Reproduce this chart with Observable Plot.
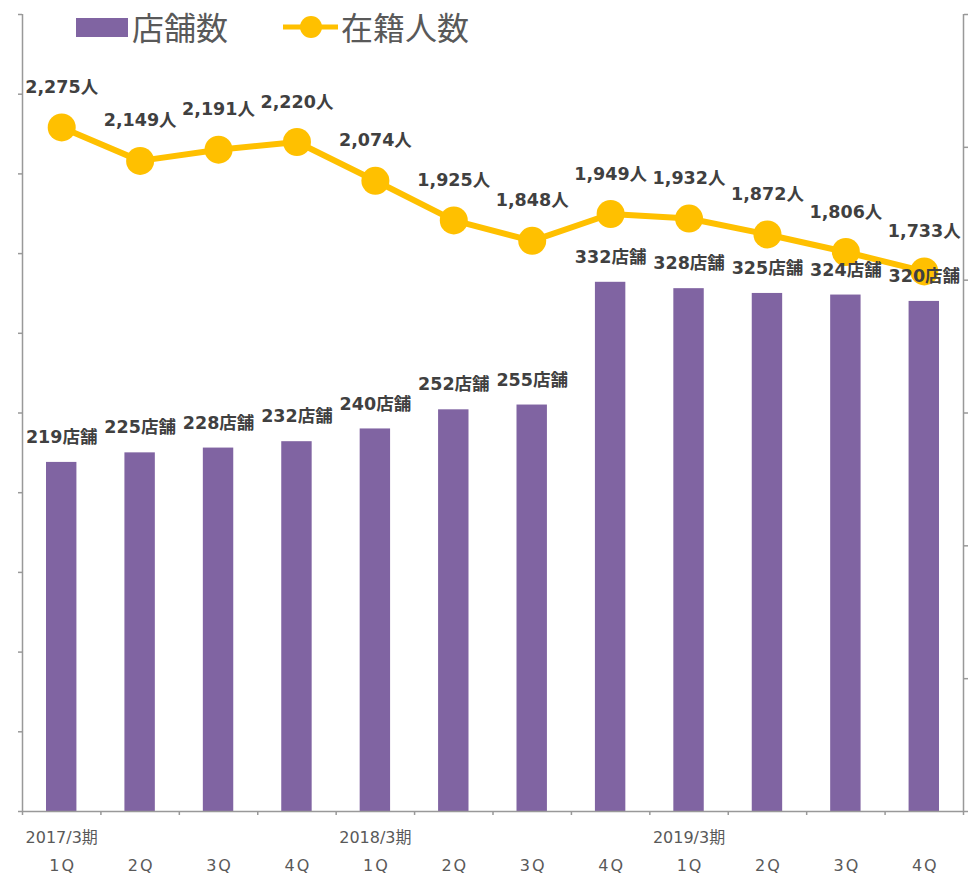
<!DOCTYPE html>
<html>
<head>
<meta charset="utf-8">
<script src="https://cdn.jsdelivr.net/npm/d3@7"></script>
<script src="https://cdn.jsdelivr.net/npm/@observablehq/plot@0.6"></script>
<style>
  html, body { margin: 0; padding: 0; background: #fff; overflow: hidden; }
  #wrap { position: relative; width: 971px; height: 874px; }
  #legend { position: absolute; left: 0; top: 0; }
  #chart svg { display: block; }
</style>
</head>
<body>
<div id="wrap">
  <div id="chart"></div>
  <svg id="legend" width="500" height="50"></svg>
</div>
<script>
// ---- data ----
const periods = ["2017/3期", "", "", "", "2018/3期", "", "", "", "2019/3期", "", "", ""];
const quarters = ["1Q", "2Q", "3Q", "4Q", "1Q", "2Q", "3Q", "4Q", "1Q", "2Q", "3Q", "4Q"];
const stores = [219, 225, 228, 232, 240, 252, 255, 332, 328, 325, 324, 320];
const staff = [2275, 2149, 2191, 2220, 2074, 1925, 1848, 1949, 1932, 1872, 1806, 1733];
const storeTicks = [0, 50, 100, 150, 200, 250, 300, 350, 400, 450, 500];
const staffTicks = [-300, 200, 700, 1200, 1700, 2200, 2700];
const storeDomain = [0, 500];
const staffDomain = [-300, 2700];
const seriesNames = ["店舗数", "在籍人数"];

const purple = "#8064a2";
const gold = "#ffc000";
const axisGray = "#999999";
const labelColor = "#404040";
const textGray = "#595959";
const labelFont = "'DejaVu Sans', 'Noto Sans CJK JP', sans-serif";

// map staff values into the store (left) scale for the secondary axis
const toLeft = v => storeDomain[0] + (v - staffDomain[0]) / (staffDomain[1] - staffDomain[0]) * (storeDomain[1] - storeDomain[0]);

const rows = stores.map((s, i) => ({i, c: i + 0.5, store: s, staff: staff[i], staffY: toLeft(staff[i])}));

const chart = Plot.plot({
  width: 971,
  height: 874,
  marginLeft: 22,
  marginRight: 8,
  marginTop: 14,
  marginBottom: 63,
  x: {domain: [0, 12], axis: null},
  y: {domain: storeDomain, axis: null},
  style: {fontFamily: labelFont, background: "#fff"},
  marks: [
    Plot.rectY(rows, {x: "i", interval: 1, y: "store", fill: purple, insetLeft: 24, insetRight: 24}),
    Plot.axisY({anchor: "left", ticks: storeTicks, tickSize: 4, tickFormat: () => "", stroke: axisGray, strokeWidth: 1.5, label: null}),
    Plot.axisY({anchor: "right", ticks: staffTicks.map(toLeft), tickSize: 4, tickFormat: () => "", stroke: axisGray, strokeWidth: 1.5, label: null}),
    Plot.axisX({anchor: "bottom", ticks: d3.range(13), tickSize: 4, tickFormat: () => "", stroke: axisGray, strokeWidth: 1.5, label: null}),
    Plot.ruleX([0, 12], {stroke: axisGray, strokeWidth: 1.5}),
    Plot.ruleY([0], {stroke: axisGray, strokeWidth: 1.5}),
    Plot.axisX({anchor: "bottom", ticks: rows.map(d => d.c), tickSize: 0, tickPadding: 20,
      tickFormat: v => periods[Math.floor(v)], fontSize: 16, fill: textGray, label: null}),
    Plot.axisX({anchor: "bottom", ticks: rows.map(d => d.c), tickSize: 0, tickPadding: 48,
      tickFormat: v => quarters[Math.floor(v)], fontSize: 16, fill: textGray, label: null}),
    Plot.line(rows, {x: "c", y: "staffY", stroke: gold, strokeWidth: 6}),
    Plot.dot(rows, {x: "c", y: "staffY", r: 14, fill: gold}),
    Plot.text(rows, {x: "c", y: "store", text: d => d.store + "店舗", dy: -25,
      fontSize: 17.5, fontWeight: "bold", fill: labelColor}),
    Plot.text(rows, {x: "c", y: "staffY", text: d => d3.format(",")(d.staff) + "人", dy: -40,
      fontSize: 17.5, fontWeight: "bold", fill: labelColor})
  ]
});
document.getElementById("chart").appendChild(chart);

// quarter labels letter spacing
d3.select(chart).selectAll("text").filter(function () { return quarters.includes(this.textContent); })
  .style("letter-spacing", "2px").attr("dx", 1);

// legend
const lg = d3.select("#legend");
lg.append("rect").attr("x", 76).attr("y", 18).attr("width", 52).attr("height", 19).attr("fill", purple);
lg.append("text").attr("x", 132).attr("y", 40).text(seriesNames[0])
  .attr("font-family", "'Noto Sans CJK JP', sans-serif").attr("font-size", 32).attr("fill", textGray);
lg.append("line").attr("x1", 283).attr("x2", 338).attr("y1", 27).attr("y2", 27)
  .attr("stroke", gold).attr("stroke-width", 5);
lg.append("circle").attr("cx", 311).attr("cy", 27).attr("r", 11).attr("fill", gold);
lg.append("text").attr("x", 341).attr("y", 40).text(seriesNames[1])
  .attr("font-family", "'Noto Sans CJK JP', sans-serif").attr("font-size", 32).attr("fill", textGray);
</script>
</body>
</html>
